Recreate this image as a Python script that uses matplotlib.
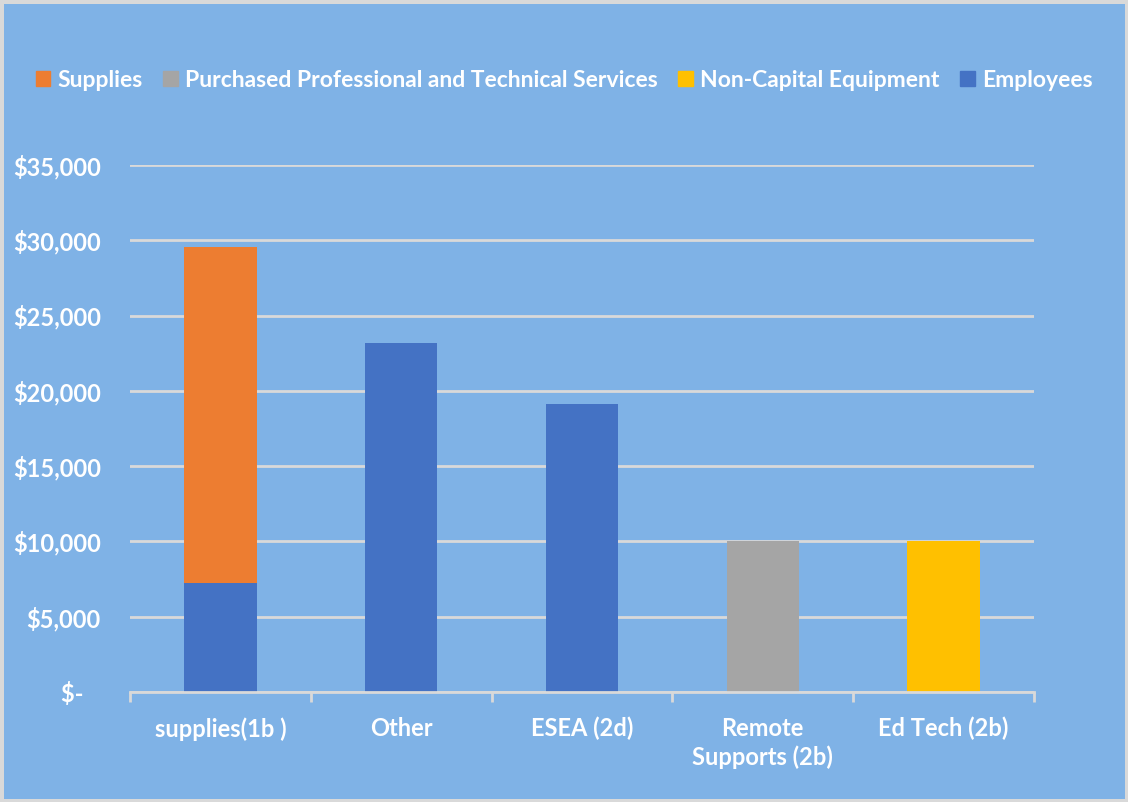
import matplotlib.pyplot as plt
from matplotlib.patches import Patch

# data
categories = ["supplies(1b )", "Other", "ESEA (2d)", "Remote\nSupports (2b)", "Ed Tech (2b)"]
employees = [7250, 23200, 19100, 0, 0]
supplies = [22300, 0, 0, 0, 0]
purchased = [0, 0, 0, 10000, 0]
non_capital = [0, 0, 0, 0, 10000]
yticks = [0, 5000, 10000, 15000, 20000, 25000, 30000, 35000]
ytick_labels = ["$-   ", "$5,000", "$10,000", "$15,000", "$20,000", "$25,000", "$30,000", "$35,000"]

bg = "#7FB2E6"
grid_c = "#D9D9D9"
c_emp = "#4472C4"
c_sup = "#ED7D31"
c_pur = "#A5A5A5"
c_nce = "#FFC000"

plt.rcParams['font.family'] = ['Lato', 'DejaVu Sans']
plt.rcParams['font.weight'] = 'bold'

fig = plt.figure(figsize=(11.28, 8.02), dpi=100)
fig.patch.set_facecolor(bg)
fig.patch.set_edgecolor(grid_c)
fig.patch.set_linewidth(5)

ax = fig.add_axes([0.1152, 0.1372, 0.8014, 0.6571])
ax.set_facecolor(bg)

x = range(len(categories))
w = 0.4
ax.bar(x, employees, w, color=c_emp, zorder=3)
bottoms = employees
ax.bar(x, supplies, w, bottom=bottoms, color=c_sup, zorder=3)
ax.bar(x, purchased, w, bottom=bottoms, color=c_pur, zorder=3)
ax.bar(x, non_capital, w, bottom=bottoms, color=c_nce, zorder=3)

ax.set_xlim(-0.5, len(categories) - 0.5)
ax.set_ylim(0, 35000)
ax.set_yticks(yticks)
ax.set_yticklabels(ytick_labels)
ax.yaxis.grid(True, color=grid_c, linewidth=2, zorder=1)
ax.set_xticks(list(x))
ax.set_xticklabels(categories, linespacing=1.3)
ax.set_xticks([i - 0.5 for i in range(len(categories) + 1)], minor=True)

for s in ["top", "left", "right"]:
    ax.spines[s].set_visible(False)
ax.spines["bottom"].set_color(grid_c)
ax.spines["bottom"].set_linewidth(2)
ax.spines["bottom"].set_zorder(4)

ax.tick_params(axis="y", length=0, pad=21, labelsize=17, labelcolor="white")
ax.tick_params(axis="x", which="major", length=0, pad=18, labelsize=17, labelcolor="white")
ax.tick_params(axis="x", which="minor", length=7, width=2, color=grid_c, direction="out")

handles = [Patch(color=c_sup), Patch(color=c_pur), Patch(color=c_nce), Patch(color=c_emp)]
labels = ["Supplies", "Purchased Professional and Technical Services", "Non-Capital Equipment", "Employees"]
fig.legend(handles, labels, loc="center", bbox_to_anchor=(0.5, 0.9), ncol=4, frameon=False,
           fontsize=16.5, labelcolor="white", handlelength=0.65, handleheight=0.65,
           handletextpad=0.3, columnspacing=0.9)

fig.savefig("out.png", facecolor=bg)
